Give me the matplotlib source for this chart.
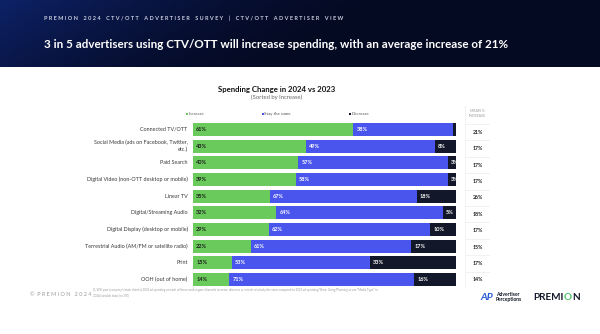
import numpy as np
import matplotlib
matplotlib.use("Agg")
import matplotlib.pyplot as plt
from matplotlib.patches import Rectangle

plt.rcParams['font.family'] = ['Lato', 'DejaVu Sans']

# data
categories = ["Connected TV/OTT",
              "Social Media (ads on Facebook, Twitter,\netc.)",
              "Paid Search",
              "Digital Video (non-OTT desktop or mobile)",
              "Linear TV",
              "Digital/Streaming Audio",
              "Digital Display (desktop or mobile)",
              "Terrestrial Audio (AM/FM or satellite radio)",
              "Print",
              "OOH (out of home)"]
increase = [61, 43, 40, 39, 35, 32, 29, 22, 15, 14]
same = [38, 49, 57, 58, 67, 64, 62, 61, 53, 71]
decrease = [1, 8, 3, 3, 18, 5, 10, 17, 33, 16]
mean_increase = [21, 17, 17, 17, 26, 18, 17, 15, 17, 14]

series_names = ["Increase", "Stay the same", "Decrease"]
colors = ["#6acb5c", "#4a55ee", "#121829"]
text_colors = ["#1a1a1a", "white", "white"]

W, H = 600, 334
fig = plt.figure(figsize=(6, 3.34), dpi=100)
fig.patch.set_facecolor("white")

def fx(x):
    return x / W

def fy(y):
    return 1 - y / H

# header band with a gradient
hdr = fig.add_axes([0, fy(67), 1, 67 / H])
gx = np.linspace(0, 1, 200)
gy = np.linspace(0, 1, 40)
GX, GY = np.meshgrid(gx, gy)
t = np.clip(1 - (GX * 1.6 + GY * 0.3), 0, 1) ** 1.5
c0 = np.array([0.02, 0.04, 0.14])
c1 = np.array([0.05, 0.13, 0.40])
img = c0[None, None, :] + (c1 - c0)[None, None, :] * t[:, :, None]
hdr.imshow(img, aspect="auto", extent=[0, 1, 0, 1], origin="upper")
hdr.set_axis_off()

fig.text(fx(44), fy(18), "P R E M I O N    2 0 2 4    C T V / O T T    A D V E R T I S E R    S U R V E Y    |    C T V / O T T    A D V E R T I S E R    V I E W",
         color="#c9cde0", fontsize=4.0, fontweight="bold", va="center", ha="left")
fig.text(fx(44), fy(45), "3 in 5 advertisers using CTV/OTT will increase spending, with an average increase of 21%",
         color="white", fontsize=8.4, fontweight="bold", va="center", ha="left")

# chart titles
fig.text(fx(277), fy(89), "Spending Change in 2024 vs 2023", color="#111111",
         fontsize=5.6, fontweight="bold", ha="center", va="center")
fig.text(fx(277), fy(97), "(Sorted by Increase)", color="#666666",
         fontsize=4.2, ha="center", va="center")

# legend
leg_x = [186, 262, 349]
for i in range(3):
    fig.patches.append(Rectangle((fx(leg_x[i]), fy(115)), 1.6 / W, 1.6 / H,
                                 transform=fig.transFigure, facecolor=colors[i], edgecolor="none"))
    fig.text(fx(leg_x[i] + 2.5), fy(114), series_names[i], color="#555555",
             fontsize=3.2, ha="left", va="center")

# stacked bars, normalised by row total
inc = np.array(increase, float)
sam = np.array(same, float)
dec = np.array(decrease, float)
tot = inc + sam + dec
parts = [inc / tot * 100, sam / tot * 100, dec / tot * 100]
raw = [increase, same, decrease]

ax = fig.add_axes([fx(193), fy(288), fx(456) - fx(193), (288 - 121) / H])
ypos = np.arange(len(categories))
left = np.zeros(len(categories))
for i in range(3):
    ax.barh(ypos, parts[i], left=left, height=0.78, color=colors[i], edgecolor="none")
    for j in range(len(categories)):
        ax.text(left[j] + 1.2, ypos[j], "%d%%" % raw[i][j], color=text_colors[i],
                fontsize=4.0, fontweight="bold", ha="left", va="center", clip_on=True)
    left = left + parts[i]
ax.set_xlim(0, 100)
ax.set_ylim(len(categories) - 0.5, -0.5)
ax.set_axis_off()

for j, cat in enumerate(categories):
    ax.text(-2.0, ypos[j], cat, color="#3a3a3a", fontsize=3.9, ha="right", va="center",
            linespacing=1.5)

# mean % increase column as a small table
tab = fig.add_axes([fx(465), fy(288), fx(490) - fx(465), (288 - 106) / H])
tab.set_xlim(0, 1)
tab.set_ylim(len(categories) - 0.5, -1.6)
tab.set_axis_off()
tab.text(0.5, -1.15, "MEAN %\nINCREASE", color="#9a9a9a", fontsize=2.6,
         ha="center", va="center", linespacing=1.3)
for j in range(len(categories)):
    tab.text(0.5, ypos[j], "%d%%" % mean_increase[j], color="#222222", fontsize=3.8,
             fontweight="bold", ha="center", va="center")
for yl in np.arange(-0.5, len(categories), 1.0):
    tab.plot([0, 1], [yl, yl], color="#ececec", lw=0.5)
tab.plot([0, 0], [-1.6, len(categories) - 0.5], color="#ececec", lw=0.5)
tab.plot([1, 1], [-1.6, len(categories) - 0.5], color="#ececec", lw=0.5)

# footer
fig.text(fx(30), fy(294), "©  P R E M I O N   2 0 2 4", color="#9a9a9a", fontsize=4.0,
         ha="left", va="center")
fig.text(fx(93), fy(293),
         "Q. Will your [company's/main client's] 2024 ad spending on each of these media types/channels increase, decrease or remain relatively the same compared to 2023 ad spending? Base: Using/Planning to use \"Media Type\" in\n2024 (variable base) (n=150)",
         color="#9a9a9a", fontsize=2.1, ha="left", va="center", linespacing=1.4)
fig.text(fx(480), fy(297), "AP", color="#2a5bd7", fontsize=7.5, fontweight="bold",
         fontstyle="italic", ha="left", va="center")
fig.text(fx(496), fy(297), "Advertiser\nPerceptions", color="#121829", fontsize=3.6,
         fontweight="bold", ha="left", va="center", linespacing=1.0)

# PREMION wordmark, green O placed by measuring text widths
renderer = fig.canvas.get_renderer()
xcur = 533.0
for piece, col in [("PREMI", "#121829"), ("O", "#4cc46a"), ("N", "#121829")]:
    tx = fig.text(fx(xcur), fy(297), piece, color=col, fontsize=7.2, fontweight="bold",
                  ha="left", va="center")
    xcur += tx.get_window_extent(renderer).width + 0.3

fig.savefig("out.png", dpi=100)
